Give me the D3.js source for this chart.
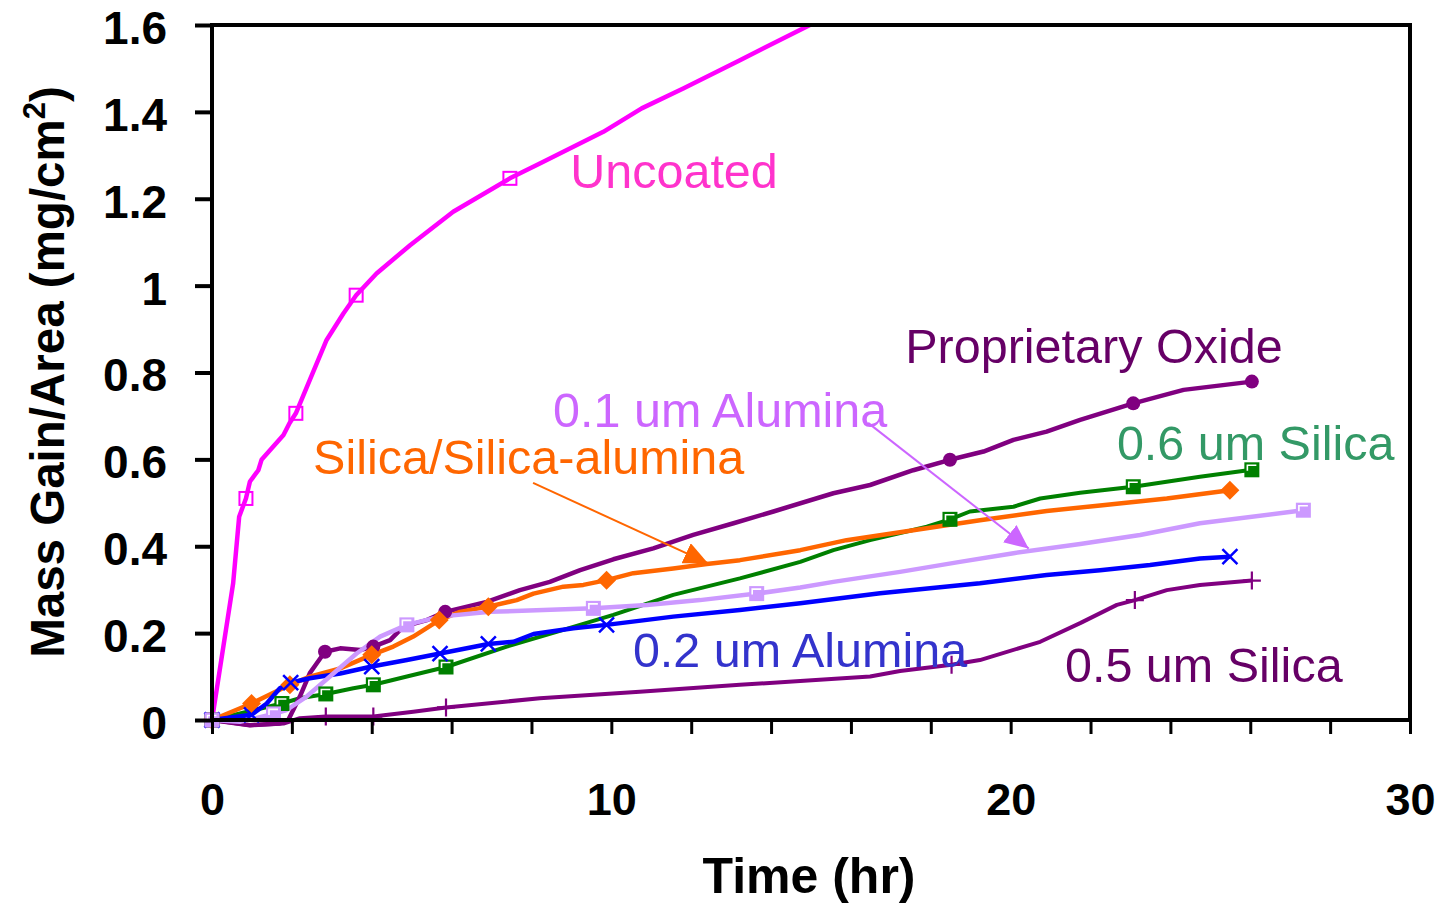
<!DOCTYPE html>
<html>
<head>
<meta charset="utf-8">
<script src="https://cdn.jsdelivr.net/npm/d3@7"></script>
<style>
  body { margin: 0; background: #fff; }
  text { font-family: "Liberation Sans", Arial, sans-serif; }
</style>
</head>
<body>
<svg id="chart" width="1444" height="903"></svg>
<script>
// [time (hr), mass gain (mg/cm2)]
const uncoated = [[0,0],[0.53,0.315],[0.68,0.468],[0.85,0.51],[0.95,0.549],[1.16,0.575],[1.24,0.599],[1.79,0.656],[1.94,0.683],[2.10,0.706],[2.45,0.783],[2.87,0.875],[3.29,0.936],[3.61,0.978],[4.12,1.028],[4.96,1.093],[6.04,1.170],[7.46,1.247],[8.21,1.281],[9.80,1.354],[10.76,1.408],[11.80,1.454],[13.22,1.519],[15.06,1.604],[15.5,1.625]]
const uncoatedMarks = [0, 3, 9, 13, 17]

const propOxide = [[0,0],[0.95,-0.012],[1.70,-0.008],[1.9,-0.002],[2.20,0.054],[2.45,0.108],[2.62,0.130],[2.83,0.157],[3.21,0.165],[3.71,0.161],[4.04,0.169],[4.46,0.184],[4.79,0.215],[5.38,0.230],[5.84,0.249],[6.88,0.272],[7.71,0.299],[8.46,0.318],[9.22,0.345],[10.05,0.370],[11.05,0.395],[12.05,0.426],[13.06,0.453],[14.06,0.480],[15.56,0.522],[16.48,0.541],[17.56,0.575],[18.48,0.599],[19.32,0.618],[20.07,0.645],[20.9,0.664],[21.74,0.691],[23.07,0.729],[24.33,0.760],[26.04,0.779]]
const propOxideMarks = [0, 7, 10, 14, 27, 32, 34]

const silicaAlumina = [[0,0],[0.99,0.038],[1.95,0.081],[2.45,0.100],[3.21,0.119],[4.0,0.150],[4.54,0.169],[5.04,0.192],[5.69,0.230],[6.21,0.249],[6.92,0.261],[7.63,0.276],[8.05,0.291],[8.80,0.307],[9.30,0.311],[9.88,0.322],[10.55,0.338],[11.55,0.349],[12.39,0.359],[13.22,0.368],[14.73,0.391],[15.89,0.414],[17.56,0.437],[19.23,0.460],[20.90,0.481],[22.24,0.494],[23.91,0.510],[25.49,0.529]]
const silicaAluminaMarks = [0, 1, 2, 5, 8, 10, 15, 27]

const silica06 = [[0,0],[0.70,0.015],[1.75,0.038],[2.20,0.050],[2.85,0.060],[3.54,0.073],[4.04,0.081],[4.88,0.100],[5.86,0.122],[7.38,0.169],[8.63,0.203],[10.05,0.242],[11.55,0.288],[13.22,0.326],[14.73,0.364],[15.56,0.391],[16.48,0.414],[17.90,0.445],[18.48,0.462],[18.98,0.480],[20.07,0.491],[20.74,0.510],[21.74,0.523],[23.07,0.537],[24.74,0.560],[26.04,0.576]]
const silica06Marks = [0, 2, 4, 6, 8, 18, 23, 25]

const alumina01 = [[0,0],[0.70,-0.004],[1.54,0.014],[1.87,0.023],[2.37,0.054],[3.04,0.107],[3.62,0.153],[4.21,0.192],[4.88,0.219],[5.71,0.238],[6.96,0.249],[9.55,0.257],[10.89,0.265],[12.22,0.276],[13.64,0.291],[14.73,0.305],[15.56,0.318],[17.23,0.341],[18.73,0.364],[20.07,0.384],[21.74,0.405],[23.24,0.426],[24.74,0.453],[27.33,0.483]]
const alumina01Marks = [0, 2, 8, 11, 14, 23]

const alumina02 = [[0,0],[0.99,0.012],[1.37,0.038],[1.70,0.073],[1.97,0.086],[2.45,0.096],[3.21,0.107],[4.0,0.123],[4.88,0.138],[5.71,0.153],[6.92,0.175],[7.55,0.180],[8.05,0.198],[9.05,0.211],[9.88,0.219],[11.55,0.238],[13.22,0.253],[14.73,0.269],[16.73,0.292],[19.23,0.315],[20.90,0.334],[22.24,0.345],[23.49,0.357],[24.74,0.372],[25.49,0.376]]
const alumina02Marks = [0, 1, 4, 7, 9, 10, 14, 24]

const silica05 = [[0,0],[0.95,-0.012],[1.79,-0.008],[2.20,0.004],[2.85,0.008],[4.04,0.008],[5.04,0.019],[5.86,0.029],[8.21,0.050],[10.71,0.065],[13.22,0.081],[14.73,0.090],[16.48,0.100],[17.23,0.113],[18.52,0.127],[19.23,0.138],[20.74,0.180],[21.74,0.223],[22.66,0.265],[23.11,0.276],[23.91,0.299],[24.74,0.311],[26.04,0.321]]
const silica05Marks = [0, 4, 5, 7, 14, 19, 22]

const xTicks = [0, 2, 4, 6, 8, 10, 12, 14, 16, 18, 20, 22, 24, 26, 28, 30]
const xLabels = [0, 10, 20, 30]
const yTicks = [0, 0.2, 0.4, 0.6, 0.8, 1.0, 1.2, 1.4, 1.6]

const svg = d3.select('#chart')
const x = d3.scaleLinear().domain([0, 30]).range([212, 1410])
const y = d3.scaleLinear().domain([0, 1.6]).range([720, 25])

// clip only the top (Uncoated runs off the scale), small dips below 0 stay visible
svg.append('clipPath').attr('id', 'plot')
  .append('rect').attr('x', 200).attr('y', 25).attr('width', 1210).attr('height', 720)

const line = d3.line().x(d => x(d[0])).y(d => y(d[1]))

const series = [
  { data: uncoated, marks: uncoatedMarks, color: '#ff00ff', width: 4.5, shape: 'openSquare' },
  { data: silica05, marks: silica05Marks, color: '#800080', width: 4, shape: 'plus' },
  { data: silica06, marks: silica06Marks, color: '#008000', width: 4, shape: 'square' },
  { data: propOxide, marks: propOxideMarks, color: '#800080', width: 4.5, shape: 'circle' },
  { data: silicaAlumina, marks: silicaAluminaMarks, color: '#ff6600', width: 4.5, shape: 'diamond' },
  { data: alumina02, marks: alumina02Marks, color: '#0000ff', width: 4.5, shape: 'cross' },
  { data: alumina01, marks: alumina01Marks, color: '#cc99ff', width: 4.5, shape: 'square' }
]

const plot = svg.append('g').attr('clip-path', 'url(#plot)')

series.forEach(s => {
  plot.append('path')
    .attr('d', line(s.data))
    .attr('fill', 'none')
    .attr('stroke', s.color)
    .attr('stroke-width', s.width)
    .attr('stroke-linejoin', 'round')
})

series.forEach(s => {
  const g = svg.append('g')
  s.marks.map(i => s.data[i]).forEach(d => {
    const cx = x(d[0])
    const cy = y(d[1])
    if (s.shape === 'openSquare') {
      g.append('rect').attr('x', cx - 6.5).attr('y', cy - 6.5).attr('width', 13).attr('height', 13)
        .attr('fill', 'none').attr('stroke', s.color).attr('stroke-width', 2)
    } else if (s.shape === 'square') {
      g.append('rect').attr('x', cx - 7.5).attr('y', cy - 7.5).attr('width', 15).attr('height', 15)
        .attr('fill', s.color)
      g.append('path').attr('d', `M${cx - 4.5},${cy + 1}V${cy - 4.5}H${cx + 4.5}`)
        .attr('fill', 'none').attr('stroke', '#fff').attr('stroke-width', 1.6)
    } else if (s.shape === 'circle') {
      g.append('circle').attr('cx', cx).attr('cy', cy).attr('r', 7).attr('fill', s.color)
    } else if (s.shape === 'diamond') {
      g.append('path').attr('d', `M${cx},${cy - 9.5}L${cx + 9.5},${cy}L${cx},${cy + 9.5}L${cx - 9.5},${cy}Z`)
        .attr('fill', s.color)
    } else if (s.shape === 'cross') {
      g.append('path').attr('d', `M${cx - 7.5},${cy - 7.5}L${cx + 7.5},${cy + 7.5}M${cx - 7.5},${cy + 7.5}L${cx + 7.5},${cy - 7.5}`)
        .attr('stroke', s.color).attr('stroke-width', 2.5)
    } else if (s.shape === 'plus') {
      g.append('path').attr('d', `M${cx - 9},${cy}H${cx + 9}M${cx},${cy - 9}V${cy + 9}`)
        .attr('stroke', s.color).attr('stroke-width', 2.2)
    }
  })
})

// axes
const yAxis = svg.append('g').attr('transform', 'translate(212,0)')
  .call(d3.axisLeft(y).tickValues(yTicks).tickSize(17).tickSizeOuter(0).tickPadding(28)
    .tickFormat(d => d3.format('~g')(+d.toFixed(1))))
yAxis.select('.domain').remove()
yAxis.selectAll('line').attr('stroke', '#000').attr('stroke-width', 4)
yAxis.selectAll('text').attr('font-size', 46).attr('font-weight', 'bold').attr('fill', '#000')
  .attr('dy', '0.4em')
  .attr('font-family', '"Liberation Sans", Arial, sans-serif')

const xAxis = svg.append('g').attr('transform', 'translate(0,720)')
  .call(d3.axisBottom(x).tickValues(xTicks).tickSize(14).tickSizeOuter(0)
    .tickFormat(d => xLabels.includes(d) ? d : ''))
xAxis.select('.domain').remove()
xAxis.selectAll('line').attr('stroke', '#000').attr('stroke-width', 3)
xAxis.selectAll('text').attr('y', 95).attr('dy', 0).attr('font-size', 45).attr('font-weight', 'bold')
  .attr('fill', '#000').attr('font-family', '"Liberation Sans", Arial, sans-serif')

// frame
svg.append('rect').attr('x', 212).attr('y', 25).attr('width', 1198).attr('height', 695)
  .attr('fill', 'none').attr('stroke', '#000').attr('stroke-width', 4)

svg.append('text').attr('x', 809).attr('y', 893).attr('text-anchor', 'middle')
  .attr('font-size', 50).attr('font-weight', 'bold').text('Time (hr)')

const yt = svg.append('text').attr('transform', 'translate(64,372) rotate(-90)')
  .attr('text-anchor', 'middle').attr('font-size', 47.5).attr('font-weight', 'bold')
yt.append('tspan').text('Mass Gain/Area (mg/cm')
yt.append('tspan').attr('font-size', 31).attr('dy', -19).text('2')
yt.append('tspan').attr('dy', 19).text(')')

// curve labels and arrows
const labels = [
  { text: 'Uncoated', t: 8.97, m: 1.225, color: '#ff33cc' },
  { text: 'Proprietary Oxide', t: 17.36, m: 0.822, color: '#660066' },
  { text: '0.1 um Alumina', t: 8.54, m: 0.674, color: '#cc66ff' },
  { text: '0.6 um Silica', t: 22.66, m: 0.599, color: '#339966' },
  { text: 'Silica/Silica-alumina', t: 2.53, m: 0.566, color: '#ff6600' },
  { text: '0.2 um Alumina', t: 10.54, m: 0.123, color: '#3333cc' },
  { text: '0.5 um Silica', t: 21.36, m: 0.088, color: '#660066' }
]

labels.forEach(l => {
  svg.append('text').attr('x', x(l.t)).attr('y', y(l.m))
    .attr('font-size', 48.5).attr('fill', l.color).text(l.text)
})

const arrows = [
  { from: [8.04, 0.546], to: [12.42, 0.361], color: '#ff6600' },
  { from: [16.43, 0.684], to: [20.45, 0.395], color: '#cc66ff' }
]

arrows.forEach((a, i) => {
  svg.append('marker').attr('id', 'head' + i)
    .attr('markerUnits', 'userSpaceOnUse').attr('markerWidth', 26).attr('markerHeight', 22)
    .attr('refX', 24).attr('refY', 11).attr('orient', 'auto')
    .append('path').attr('d', 'M0,0L24,11L0,22Z').attr('fill', a.color)
  svg.append('path').attr('d', line([a.from, a.to]))
    .attr('stroke', a.color).attr('stroke-width', 2).attr('fill', 'none')
    .attr('marker-end', `url(#head${i})`)
})
</script>
</body>
</html>
